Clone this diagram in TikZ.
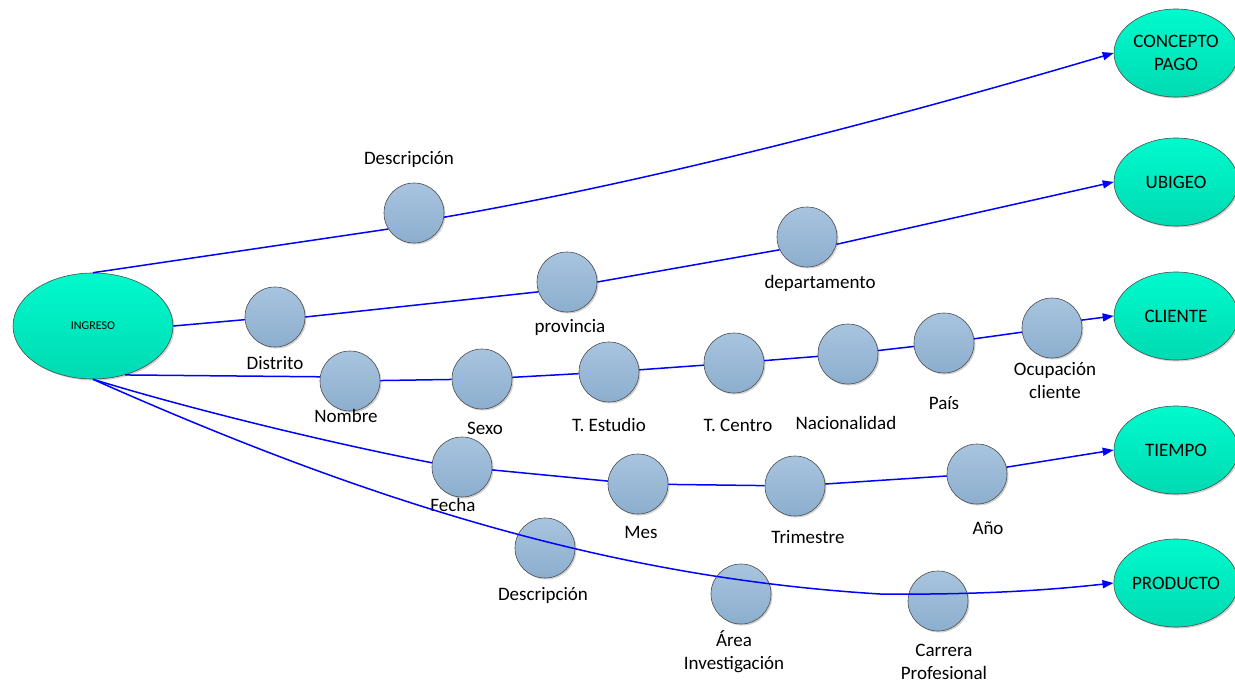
\documentclass[tikz,border=0pt]{standalone}
\usepackage{fontspec}
\setmainfont{Carlito}
\usetikzlibrary{shapes.geometric,arrows.meta,shadows}
\definecolor{dimtop}{RGB}{0,250,205}
\definecolor{dimbot}{RGB}{0,218,178}
\definecolor{attrtop}{RGB}{168,196,223}
\definecolor{attrbot}{RGB}{140,174,206}
\definecolor{linkblue}{RGB}{0,0,255}
\begin{document}
\begin{tikzpicture}[x=1pt,y=-1pt,
  dimnode/.style={ellipse, draw=black!70, line width=0.6pt, top color=dimtop, bottom color=dimbot,
    minimum width=124pt, minimum height=88pt, inner sep=0pt, align=center,
    font=\fontsize{19}{23}\selectfont,
    drop shadow={shadow xshift=1.5pt, shadow yshift=-1.5pt, opacity=0.18, fill=black}},
  attrnode/.style={circle, draw=black!70, line width=0.6pt, top color=attrtop, bottom color=attrbot,
    minimum size=60pt, inner sep=0pt,
    drop shadow={shadow xshift=1.5pt, shadow yshift=-1.5pt, opacity=0.18, fill=black}},
  lbl/.style={align=center, inner sep=0pt, font=\fontsize{19}{23}\selectfont},
  link/.style={draw=linkblue, line width=1.5pt},
  arr/.style={link, -{Triangle[length=11pt,width=8pt]}}
]
\useasboundingbox (0,0) rectangle (1235,682);

% dimensions
\node[dimnode, minimum width=160pt, minimum height=106pt, font=\fontsize{12}{14}\selectfont] (ingreso) at (93,326) {INGRESO};
\node[dimnode] (concepto) at (1176,53) {CONCEPTO\\PAGO};
\node[dimnode] (ubigeo) at (1176,182) {UBIGEO};
\node[dimnode] (cliente) at (1176,316) {CLIENTE};
\node[dimnode] (tiempo) at (1176,450) {TIEMPO};
\node[dimnode] (producto) at (1176,583) {PRODUCTO};

% attributes
\node[attrnode] (desc1) at (414,213) {};
\node[attrnode] (distrito) at (275,317) {};
\node[attrnode] (provincia) at (567,282) {};
\node[attrnode] (departamento) at (807,237) {};
\node[attrnode] (nombre) at (350,381) {};
\node[attrnode] (sexo) at (482,379) {};
\node[attrnode] (testudio) at (609,372) {};
\node[attrnode] (tcentro) at (734,363) {};
\node[attrnode] (nacionalidad) at (848,354) {};
\node[attrnode] (pais) at (944,343) {};
\node[attrnode] (ocupacion) at (1052,328) {};
\node[attrnode] (fecha) at (462,467) {};
\node[attrnode] (mes) at (638,484) {};
\node[attrnode] (trimestre) at (795,486) {};
\node[attrnode] (anio) at (977,474) {};
\node[attrnode] (desc2) at (545,548) {};
\node[attrnode] (area) at (741,594) {};
\node[attrnode] (carrera) at (938,601) {};

% labels
\node[lbl] (ldesc1) at (409,159) {Descripción};
\node[lbl] (ldistrito) at (275,363) {Distrito};
\node[lbl] (lprovincia) at (570,327) {provincia};
\node[lbl] (ldepartamento) at (820,283) {departamento};
\node[lbl] (lnombre) at (346,416) {Nombre};
\node[lbl] (lsexo) at (485,428) {Sexo};
\node[lbl] (ltestudio) at (609,425) {T. Estudio};
\node[lbl] (ltcentro) at (738,425) {T. Centro};
\node[lbl] (lnacionalidad) at (846,423) {Nacionalidad};
\node[lbl] (lpais) at (944,403) {País};
\node[lbl] (locupacion) at (1055,381) {Ocupación\\cliente};
\node[lbl] (lfecha) at (453,505) {Fecha};
\node[lbl] (lmes) at (641,532) {Mes};
\node[lbl] (ltrimestre) at (808,537) {Trimestre};
\node[lbl] (lanio) at (988,528) {Año};
\node[lbl] (ldesc2) at (543,595) {Descripción};
\node[lbl] (larea) at (734,652) {Área\\Investigación};
\node[lbl] (lcarrera) at (944,662) {Carrera\\Profesional};

% connectors
\draw[link] (ingreso.north) -- (desc1.212);
\draw[arr] (desc1.-8) .. controls (620,187) and (850,131) .. (concepto.west);

\draw[link] (ingreso.east) -- (distrito);
\draw[link] (distrito.east) -- (provincia.199);
\draw[link] (provincia.east) -- (departamento.205);
\draw[arr] (departamento.-14) -- (ubigeo.west);

\draw[link] (ingreso.-57) -- (nombre.172);
\draw[link] (nombre) -- (sexo);
\draw[link] (sexo) -- (testudio);
\draw[link] (testudio) -- (tcentro);
\draw[link] (tcentro) -- (nacionalidad);
\draw[link] (nacionalidad) -- (pais);
\draw[link] (pais) -- (ocupacion);
\draw[arr] (ocupacion.15) -- (cliente.west);

\draw[link] (ingreso.south) .. controls (200,412) and (340,445) .. (fecha.172);
\draw[link] (fecha) -- (mes);
\draw[link] (mes) -- (trimestre);
\draw[link] (trimestre) -- (anio);
\draw[arr] (anio.13) -- (tiempo.west);

\coordinate (p5) at (880,594);
\draw[arr] (ingreso.south) .. controls (380,507) and (620,578) .. (p5)
  .. controls (980,595) and (1050,590) .. (producto.west);
\end{tikzpicture}
\end{document}
